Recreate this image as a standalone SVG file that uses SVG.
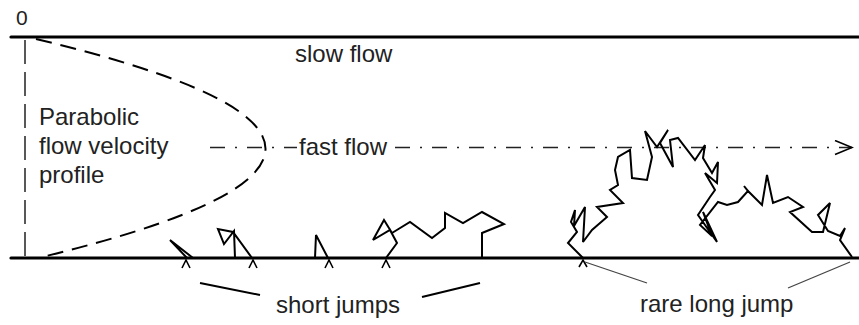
<svg xmlns="http://www.w3.org/2000/svg" width="859" height="325" viewBox="0 0 859 325">
  <style>
    .wall { stroke: #000; stroke-width: 3.2; fill: none; stroke-linecap: round; }
    .walk { stroke: #000; stroke-width: 2; fill: none; stroke-linejoin: miter; stroke-miterlimit: 3; }
    .mark { stroke: #000; stroke-width: 1.6; fill: none; }
    .lead { stroke: #000; stroke-width: 2; fill: none; }
    .lead-thin { stroke: #444; stroke-width: 1.3; fill: none; }
    .lbl { font-family: "Liberation Sans", Arial, sans-serif; font-size: 24px; fill: #222; }
  </style>
  <defs>
    <marker id="open-arrow" markerWidth="20" markerHeight="18" refX="18" refY="8" orient="auto" markerUnits="userSpaceOnUse">
      <path d="M1,1 L18,8 L1,15" fill="none" stroke="#000" stroke-width="1.6"/>
    </marker>
  </defs>

  <!-- channel walls -->
  <g id="walls">
    <line class="wall" x1="11" y1="37" x2="859" y2="37"/>
    <line class="wall" x1="11" y1="258" x2="859" y2="258"/>
  </g>

  <text class="lbl" x="16" y="25" style="font-size:21px">0</text>

  <!-- velocity profile -->
  <g id="profile">
    <line x1="25" y1="40" x2="25" y2="257" stroke="#222" stroke-width="1.5" stroke-dasharray="24 8"/>
    <path d="M36,39 Q492,148 42,257" fill="none" stroke="#000" stroke-width="2" stroke-dasharray="16 9"/>
    <text class="lbl" x="39" y="125">Parabolic</text>
    <text class="lbl" x="39" y="154">flow velocity</text>
    <text class="lbl" x="39" y="183">profile</text>
  </g>

  <g id="slow-flow">
    <text class="lbl" x="295" y="62">slow flow</text>
  </g>

  <!-- centre-line flow -->
  <g id="connectors">
    <line x1="210" y1="147.5" x2="852" y2="147.5" stroke="#222" stroke-width="1.4" stroke-dasharray="15 10 2 10" marker-end="url(#open-arrow)"/>
  </g>
  <g id="fast-flow">
    <rect x="297" y="136" width="93" height="20" fill="#fff"/>
    <text class="lbl" x="299" y="155">fast flow</text>
  </g>

  <!-- short jumps -->
  <g id="short-jumps">
    <polyline class="walk" points="193,258 170,240 187,258"/>
    <polyline class="walk" points="235,258 234,231 224,244 218,229 233,232 252,258"/>
    <polyline class="walk" points="315,258 316,235 328,258"/>
    <polyline class="walk" points="386,258 397,243 390,230 373,240 384,220 392,233 410,222 432,238 445,228 445,213 463,223 482,212 504,224 482,233 482,258"/>
    <path class="mark" d="M182,268 L186,260 L190,268 M249,268 L253,260 L257,268 M325,268 L329,260 L333,268 M382,268 L386,260 L390,268"/>
    <line class="lead" x1="200" y1="283" x2="260" y2="295"/>
    <line class="lead" x1="422" y1="297" x2="480" y2="283"/>
    <text class="lbl" x="276" y="313">short jumps</text>
  </g>

  <!-- long jump -->
  <g id="long-jump">
    <polyline class="walk" points="583,258 568,243 577,232 571,222 575,210 574,226 585,207 583,242 592,230 607,217 597,207 623,203 610,190 618,185 615,170 618,157 630,150 632,178 647,180 652,157 645,131 657,147 668,130 660,143 673,167 670,140 678,138 695,160 705,145 703,158 712,173 718,162 717,183 705,173 715,190 710,197 698,215 717,242 703,212 712,236 700,225 718,202 727,205 738,202 748,191 744,186 748,191 762,205 767,175 773,203 788,197 803,207 790,212 812,232 823,232 830,203 818,215 828,231 840,236 845,228 840,240 852,257"/>
    <path class="mark" d="M579,267 L583,260 L587,267"/>
    <line class="lead-thin" x1="585" y1="262" x2="647" y2="283"/>
    <line class="lead-thin" x1="788" y1="288" x2="850" y2="262"/>
    <text class="lbl" x="640" y="312">rare long jump</text>
  </g>
</svg>
